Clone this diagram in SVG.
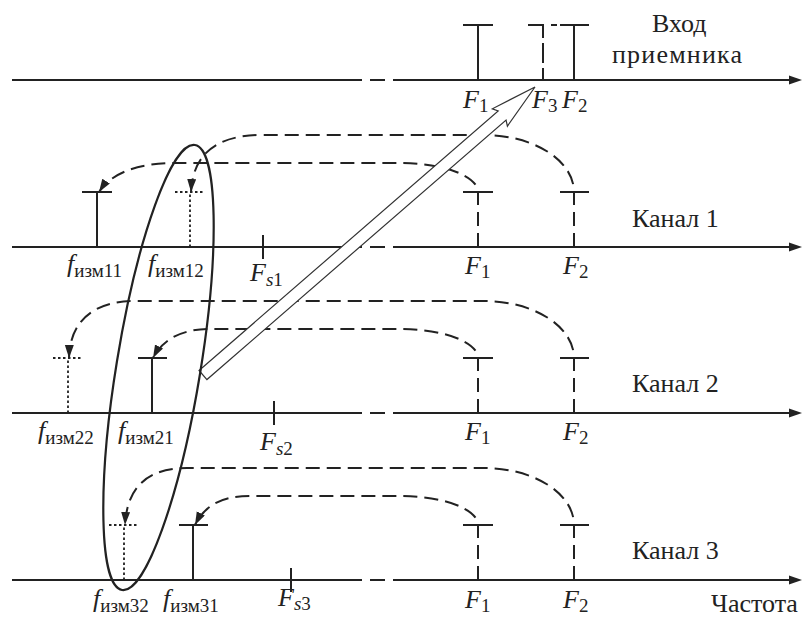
<svg xmlns="http://www.w3.org/2000/svg" width="804" height="617" viewBox="0 0 804 617">
<defs>
<style>
.ax{stroke:#222;stroke-width:2;fill:none}
.sp{stroke:#222;stroke-width:2;fill:none}
.dt{stroke:#222;stroke-width:1.8;stroke-dasharray:2.5 2.5;fill:none}
.cn{stroke:#222;stroke-width:2;stroke-dasharray:14 7;fill:none;marker-end:url(#ah)}
.t{font-family:"Liberation Serif","Times New Roman",serif;font-size:26px;fill:#222}
.i{font-style:italic}
.s{font-size:19px}
</style>
<marker id="ah" markerUnits="userSpaceOnUse" markerWidth="14" markerHeight="10" refX="13" refY="4.5" orient="auto">
<path d="M0,0 L13,4.5 L0,9 z" fill="#222"/>
</marker>
</defs>
<rect width="804" height="617" fill="#fff"/>

<g id="axes">
<g id="axis-input"><path class="ax" d="M12,80 H362 M393,80 H790"/><path class="ax" d="M370,80 H385"/><path d="M789,75.5 L802,80 L789,84.5 z" fill="#222"/></g>
<g id="axis-ch1"><path class="ax" d="M12,247 H362 M393,247 H790"/><path class="ax" d="M370,247 H385"/><path d="M789,242.5 L802,247 L789,251.5 z" fill="#222"/></g>
<g id="axis-ch2"><path class="ax" d="M12,413 H362 M393,413 H790"/><path class="ax" d="M370,413 H385"/><path d="M789,408.5 L802,413 L789,417.5 z" fill="#222"/></g>
<g id="axis-ch3"><path class="ax" d="M12,580 H362 M393,580 H790"/><path class="ax" d="M370,580 H385"/><path d="M789,575.5 L802,580 L789,584.5 z" fill="#222"/></g>
</g>

<g id="input-spectrum">
<path class="sp" d="M478,80 V25 M463,25 H493"/>
<path class="sp" d="M574,80 V25 M560,25 H589"/>
<path class="sp" d="M543,80 V68 M543,63 V43 M543,38 V25 H528"/>
<path class="sp" d="M551,25 H557"/>
</g>

<g id="ch1-spectrum">
<path class="sp" d="M97,247 V192 M82,192 H112"/>
<path class="dt" d="M190,247 V192 M175,192 H203"/>
<path class="sp" d="M263,235 V259"/>
<path class="sp" d="M463,192 H493 M560,192 H589"/>
</g>
<g id="ch2-spectrum">
<path class="dt" d="M68,413 V358 M53,358 H82"/>
<path class="sp" d="M152,413 V358 M138,358 H167"/>
<path class="sp" d="M274,401 V425"/>
<path class="sp" d="M463,358 H493 M560,358 H589"/>
</g>
<g id="ch3-spectrum">
<path class="dt" d="M124,580 V525 M109,525 H137"/>
<path class="sp" d="M193,580 V525 M179,525 H208"/>
<path class="sp" d="M291,568 V592"/>
<path class="sp" d="M463,525 H493 M560,525 H589"/>
</g>

<g id="connectors">
<path class="cn" d="M478,247 V192 A78,29 0 0 0 400,163 H175 C140,163 112,172 99,192"/>
<path class="cn" d="M574,247 V192 A90,57 0 0 0 484,135 H262 C215,135 193,155 191,192"/>
<path class="cn" d="M478,413 V358 A78,29 0 0 0 400,329 H210 C185,329 164,337 153,358"/>
<path class="cn" d="M574,413 V358 A90,57 0 0 0 484,301 H135 C95,301 70,320 69,358"/>
<path class="cn" d="M478,580 V525 A78,29 0 0 0 400,496 H250 C222,496 205,505 195,525"/>
<path class="cn" d="M574,580 V525 A90,57 0 0 0 484,468 H187 C150,468 127,485 125,525"/>
</g>

<g id="transfer-arrow">
<polygon transform="translate(203,375) rotate(-40.94)" points="0,-6 396,-6 393,-11.5 439.5,0 393,11.5 396,6 0,6" fill="#fff" stroke="#333" stroke-width="1.2" stroke-linejoin="miter"/>
</g>

<g id="group-ellipse">
<ellipse cx="158.5" cy="367.5" rx="42" ry="225.5" transform="rotate(9.3 158.5 367.5)" fill="none" stroke="#222" stroke-width="2.2"/>
</g>

<g id="labels">
<text class="t" x="652" y="32">Вход</text>
<text class="t" x="612" y="63" textLength="130" lengthAdjust="spacing">приемника</text>
<text class="t" x="463" y="108"><tspan class="i">F</tspan><tspan class="s" dy="4">1</tspan></text>
<text class="t" x="532" y="108"><tspan class="i">F</tspan><tspan class="s" dy="4">3</tspan></text>
<text class="t" x="562" y="108"><tspan class="i">F</tspan><tspan class="s" dy="4">2</tspan></text>

<text class="t" x="632" y="227">Канал 1</text>
<text class="t" x="67" y="272"><tspan class="i">f</tspan><tspan class="s" dy="5">изм11</tspan></text>
<text class="t" x="148" y="272"><tspan class="i">f</tspan><tspan class="s" dy="5">изм12</tspan></text>
<text class="t" x="250" y="281"><tspan class="i">F</tspan><tspan class="s" dy="5"><tspan class="i">s</tspan>1</tspan></text>
<text class="t" x="465" y="274"><tspan class="i">F</tspan><tspan class="s" dy="4">1</tspan></text>
<text class="t" x="563" y="274"><tspan class="i">F</tspan><tspan class="s" dy="4">2</tspan></text>

<text class="t" x="632" y="392">Канал 2</text>
<text class="t" x="38" y="439"><tspan class="i">f</tspan><tspan class="s" dy="5">изм22</tspan></text>
<text class="t" x="118" y="439"><tspan class="i">f</tspan><tspan class="s" dy="5">изм21</tspan></text>
<text class="t" x="260" y="450"><tspan class="i">F</tspan><tspan class="s" dy="5"><tspan class="i">s</tspan>2</tspan></text>
<text class="t" x="465" y="440"><tspan class="i">F</tspan><tspan class="s" dy="4">1</tspan></text>
<text class="t" x="563" y="440"><tspan class="i">F</tspan><tspan class="s" dy="4">2</tspan></text>

<text class="t" x="632" y="559">Канал 3</text>
<text class="t" x="93" y="607"><tspan class="i">f</tspan><tspan class="s" dy="5">изм32</tspan></text>
<text class="t" x="163" y="607"><tspan class="i">f</tspan><tspan class="s" dy="5">изм31</tspan></text>
<text class="t" x="278" y="606"><tspan class="i">F</tspan><tspan class="s" dy="4"><tspan class="i">s</tspan>3</tspan></text>
<text class="t" x="465" y="608"><tspan class="i">F</tspan><tspan class="s" dy="4">1</tspan></text>
<text class="t" x="563" y="608"><tspan class="i">F</tspan><tspan class="s" dy="4">2</tspan></text>
<text class="t" x="711" y="612">Частота</text>
</g>
</svg>
